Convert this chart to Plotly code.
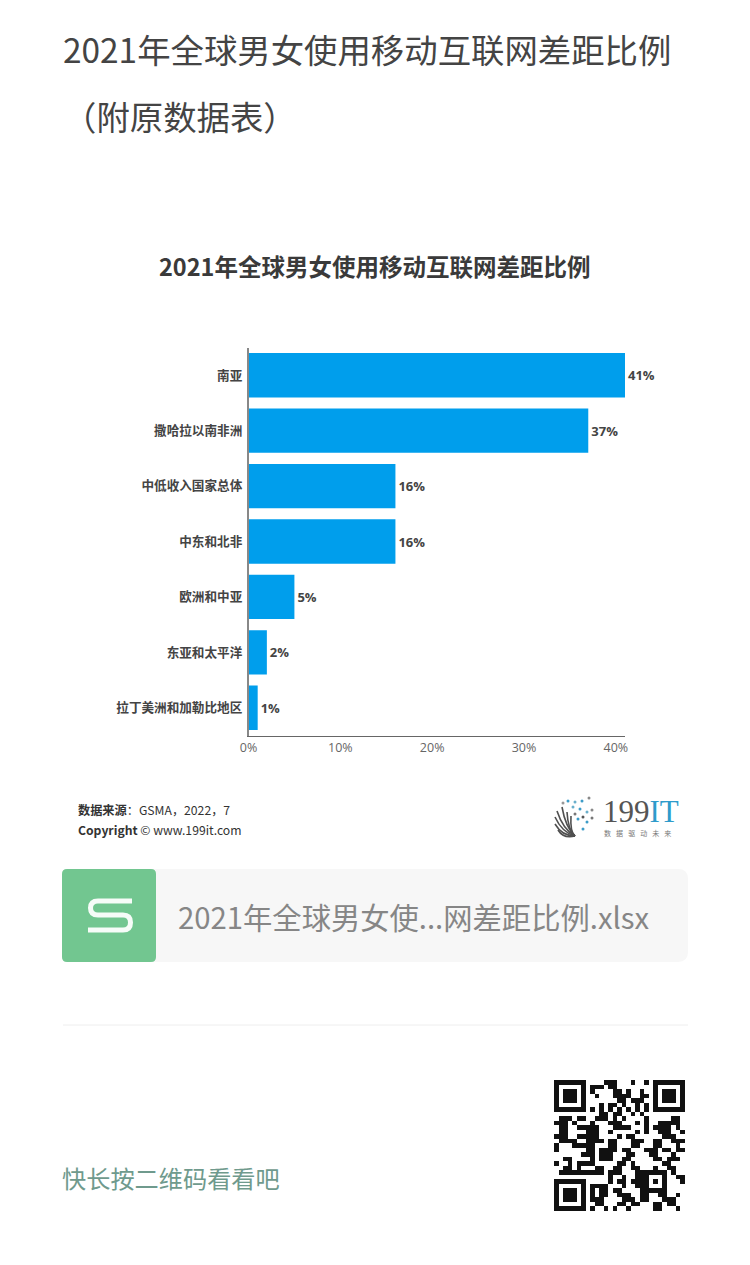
import plotly.graph_objects as go

# page size
W = 750
H = 1265

categories = ['南亚', '撒哈拉以南非洲', '中低收入国家总体', '中东和北非', '欧洲和中亚', '东亚和太平洋', '拉丁美洲和加勒比地区']
values = [41, 37, 16, 16, 5, 2, 1]
x_ticks = [0, 10, 20, 30, 40]

page_title = ['2021年全球男女使用移动互联网差距比例', '（附原数据表）']
chart_title = '2021年全球男女使用移动互联网差距比例'
source_text = '<b>数据来源</b>：GSMA，2022，7'
copyright_text = '<b>Copyright</b> © www.199it.com'
file_name = '2021年全球男女使...网差距比例.xlsx'
prompt_text = '快长按二维码看看吧'
logo_sub = '数\u2002 据\u2002 驱\u2002 动\u2002 未\u2002 来'

qr_rows = [
    '11111110000111000100101111111',
    '10000010111011000000001000001',
    '10111010100001101001001011101',
    '10111010010001111001101011101',
    '10111010000000110111001011101',
    '10000010001011010010101000001',
    '11111110101010101010101111111',
    '00000000001101100101000000000',
    '01110110011101010000100000110',
    '11101000100011100010100111110',
    '01100111110001111000101111010',
    '01100001110010000010100111001',
    '11100111110000101100000011100',
    '01111001111011000111001100111',
    '10001111100011000110001100010',
    '10000001101111011000111011011',
    '00000011101110001100011000100',
    '00110000101110011000001101110',
    '10010111100000110100000011000',
    '00110100011001100110001001100',
    '01111111111011100011111110100',
    '00000000000010010011100010011',
    '11111110000010110111101010001',
    '10000010111100010011100010000',
    '10111010101101100001111110000',
    '10111010101100111001100110010',
    '10111010111000011101100011100',
    '10000010011000110110001101100',
    '11111110100101001000001100010',
]

SANS = 'Noto Sans CJK SC'
LATIN = 'Open Sans'
DARK = '#444444'


def px_x(x):
    return x / W


def px_y(y):
    return 1 - y / H


def to_paper_path(pts):
    # pts: list of (command, x, y, ...) in page pixels
    out = ''
    for p in pts:
        out += p[0]
        nums = p[1:]
        for i in range(0, len(nums), 2):
            out += f' {px_x(nums[i]):.5f},{px_y(nums[i + 1]):.5f} '
    return out


def round_rect(x0, y0, x1, y1, r_left, r_right):
    return to_paper_path([
        ('M', x0 + r_left, y0),
        ('L', x1 - r_right, y0),
        ('Q', x1, y0, x1, y0 + r_right),
        ('L', x1, y1 - r_right),
        ('Q', x1, y1, x1 - r_right, y1),
        ('L', x0 + r_left, y1),
        ('Q', x0, y1, x0, y1 - r_left),
        ('L', x0, y0 + r_left),
        ('Q', x0, y0, x0 + r_left, y0),
    ]) + 'Z'


def label(text, x, y, size, color=DARK, family=SANS, anchor='left'):
    return dict(text=text, x=px_x(x), y=px_y(y), xref='paper', yref='paper', showarrow=False,
                xanchor=anchor, yanchor='middle', align='left',
                font=dict(size=size, color=color, family=family))


def page_path(path, **kw):
    return dict(type='path', xref='paper', yref='paper', path=path, **kw)


fig = go.Figure()

fig.add_trace(go.Bar(
    x=values, y=categories, orientation='h', marker=dict(color='#009EEC', line=dict(width=0)),
    texttemplate='<b>%{x}%</b>', textposition='outside', cliponaxis=False,
    textfont=dict(size=13, color=DARK, family=LATIN), width=0.8,
))

fig.add_trace(go.Heatmap(
    z=[[int(c) for c in row] for row in qr_rows], xaxis='x2', yaxis='y2', showscale=False,
    colorscale=[[0, '#ffffff'], [1, '#111111']], zmin=0, zmax=1, hoverinfo='skip',
))

# card, icon, divider and logo -------------------------------------------------
shapes = [
    page_path(round_rect(62, 869, 688, 962, 6, 10), fillcolor='#F7F7F7', line=dict(width=0)),
    page_path(round_rect(62, 869, 156, 962, 5, 5), fillcolor='#72C690', line=dict(width=0)),
    page_path(to_paper_path([
        ('M', 132, 901), ('L', 98, 901), ('Q', 90.5, 901, 90.5, 908), ('Q', 90.5, 915, 98, 915),
        ('L', 123, 915), ('Q', 130.5, 915, 130.5, 922.5), ('Q', 130.5, 930, 123, 930), ('L', 88, 930),
    ]), line=dict(color='#F6FCF8', width=5)),
    dict(type='line', xref='paper', yref='paper', x0=px_x(63), x1=px_x(688), y0=px_y(1025), y1=px_y(1025),
         line=dict(color='#EEEEEE', width=1)),
]

petal_tips = [(558, 830), (555, 824), (555, 817), (557, 811), (562, 807), (567, 812), (571, 816)]
for tip in petal_tips:
    shapes.append(page_path(to_paper_path([
        ('M', 575, 836), ('Q', (tip[0] + 575) / 2 - 3, (tip[1] + 836) / 2 + 6, tip[0], tip[1]),
    ]), line=dict(color='#505050', width=1.6)))

logo_dots = [(568, 801, '#3D9CC8'), (575, 802, '#6AAFCB'), (582, 801, '#3D9CC8'), (573, 807, '#6AAFCB'),
             (580, 809, '#3D9CC8'), (587, 812, '#6AAFCB'), (592, 810, '#888888'), (575, 814, '#777777'),
             (583, 817, '#555555'), (589, 798, '#888888'), (587, 822, '#3D9CC8'), (583, 829, '#3D9CC8'),
             (578, 819, '#3D9CC8'), (592, 818, '#777777'), (563, 803, '#999999')]
for dx, dy, dc in logo_dots:
    shapes.append(dict(type='circle', xref='paper', yref='paper', x0=px_x(dx - 1.5), x1=px_x(dx + 1.5),
                       y0=px_y(dy + 1.5), y1=px_y(dy - 1.5), fillcolor=dc, line=dict(width=0)))

annotations = [
    label(page_title[0], 60.5, 48, 33.4),
    label(page_title[1], 60.5, 115, 33.4),
    label(f'<b>{chart_title}</b>', 157, 266, 23.5, color='#3A3A3A'),
    label(source_text, 76, 809.5, 12.2, color='#333333'),
    label(copyright_text, 76, 829.5, 12.2, color='#333333'),
    label(file_name, 176, 916, 29.3, color='#868686'),
    label(prompt_text, 60, 1177, 24.2, color='#6F9A8D'),
    label('<span style="color:#555555">199</span><span style="color:#2E9BCB">IT</span>', 601, 811.5, 31,
          family='Liberation Serif'),
    label(logo_sub, 602, 833, 7, color='#777777'),
]

fig.update_layout(
    template='none', width=W, height=H, autosize=False, margin=dict(l=0, r=0, t=0, b=0, pad=0),
    paper_bgcolor='white', plot_bgcolor='white', showlegend=False,
    shapes=shapes, annotations=annotations,
    xaxis=dict(
        domain=[px_x(248.5), px_x(625)], range=[0, 41], anchor='y', tickvals=x_ticks, automargin=False,
        ticktext=[f'{t}%' for t in x_ticks], ticks='', showgrid=False, zeroline=False,
        showline=True, linecolor='#666666', linewidth=1,
        tickfont=dict(size=12.5, color='#666666', family=LATIN),
    ),
    yaxis=dict(
        domain=[px_y(735.5), px_y(347.5)], autorange='reversed', anchor='x', type='category', automargin=False,
        tickvals=categories, ticktext=[f'<b>{c}</b>' for c in categories], ticks='', showgrid=False,
        zeroline=False, showline=True, linecolor='#888888', linewidth=1.5, ticklabelstandoff=2,
        tickfont=dict(size=12.6, color=DARK, family=SANS),
    ),
    xaxis2=dict(domain=[px_x(554), px_x(685)], anchor='y2', visible=False, automargin=False),
    yaxis2=dict(domain=[px_y(1211), px_y(1080)], anchor='x2', visible=False, autorange='reversed', automargin=False),
)

fig.write_html('out.html', post_script="document.body.style.margin='0';", config=dict(displayModeBar=False))
